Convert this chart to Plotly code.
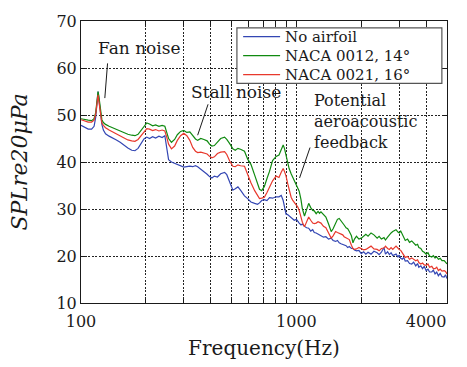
import numpy as np
import plotly.graph_objects as go

# Frequency grid (Hz)
freq_hz = [
    100, 104, 108, 112, 115, 117, 119, 120, 121, 123,
    125, 127, 130, 135, 140, 146, 152, 158, 165, 172,
    178, 184, 190, 196, 202, 208, 215, 222, 230, 238,
    245, 250, 255, 263, 272, 280, 290, 300, 310, 320,
    330, 340, 348, 360, 372, 385, 395, 405, 416, 430,
    445, 464, 475, 490, 507, 520, 535, 550, 574, 594,
    615, 640, 660, 674, 690, 710, 730, 750, 775, 805,
    830, 850, 868, 880, 895, 910, 925, 945, 960, 977,
    1000, 1015, 1030, 1050, 1065, 1090, 1115, 1140, 1165, 1190,
    1210, 1235, 1260, 1280, 1300, 1335, 1370, 1410, 1450, 1480,
    1520, 1550, 1580, 1610, 1640, 1665, 1700, 1730, 1760, 1800,
    1830, 1860, 1900, 1950, 2000, 2050, 2100, 2150, 2220, 2290,
    2370, 2420, 2480, 2550, 2590, 2650, 2700, 2750, 2800, 2900,
    2960, 3000, 3050, 3100, 3150, 3200, 3280, 3350, 3430, 3500,
    3580, 3650, 3700, 3780, 3850, 3920, 4000, 4080, 4150, 4250,
    4320, 4400, 4480, 4560, 4650, 4740, 4850, 4920, 5000,
]

# Sound pressure level (dB re 20 uPa)
spl_no_airfoil = [
    47.8, 47.3, 47.0, 47.0, 47.6, 49.5, 53.0, 55.0, 53.5, 50.0,
    48.0, 46.8, 46.0, 45.5, 45.2, 44.7, 44.2, 43.6, 43.0, 42.5,
    42.4, 42.9, 44.0, 44.9, 45.3, 45.0, 45.4, 45.1, 45.5, 45.2,
    45.6, 42.5, 40.5, 40.0, 39.7, 39.4, 39.1, 38.9, 39.0, 39.1,
    39.0, 39.2, 39.0, 38.5, 38.0, 37.4, 36.9, 36.6, 37.0, 36.8,
    37.5, 37.8, 37.3, 35.5, 34.0, 34.3, 34.7, 34.0, 32.8, 32.2,
    31.5, 31.2, 31.0, 31.3, 31.8, 32.0, 31.8, 32.4, 32.3, 32.6,
    32.6, 32.9, 31.8, 30.5, 28.9, 28.8, 28.5, 28.1, 28.0, 27.6,
    27.8, 27.3, 27.0, 26.6, 26.8, 26.3, 26.0, 25.9, 25.3, 25.6,
    25.0, 24.9, 24.6, 24.5, 24.3, 24.0, 24.1, 23.6, 23.8, 23.3,
    23.1, 23.3, 22.8, 22.6, 22.5, 22.3, 22.2, 21.8, 22.0, 21.6,
    21.6, 21.3, 21.1, 21.2, 20.5, 20.9, 20.4, 20.8, 20.4, 21.0,
    20.7, 20.3, 20.8, 21.8, 20.4, 20.9, 20.3, 20.7, 20.1, 20.4,
    19.8, 20.2, 19.5, 19.3, 19.7, 18.9, 19.0, 18.4, 18.3, 18.7,
    17.9, 18.4, 17.6, 17.9, 17.3, 17.8, 16.9, 17.2, 16.6, 16.6,
    17.0, 16.2, 16.6, 15.8, 16.3, 15.6, 15.5, 16.0, 15.2,
]

spl_naca0012_14 = [
    49.2, 49.0, 48.9, 48.8, 49.2, 50.5, 53.2, 55.0, 54.0, 51.0,
    49.0, 48.4, 48.0, 47.6, 47.3, 46.9, 46.5, 46.2, 45.9, 45.7,
    45.6, 45.9, 46.7, 47.6, 48.3, 48.1, 47.7, 47.9, 47.6, 47.8,
    47.6, 46.3, 45.0, 44.2, 44.8, 45.8, 46.5, 46.7, 46.3, 46.4,
    45.6, 44.9, 44.6, 45.0, 44.8, 44.5, 43.8, 43.4, 43.5, 44.2,
    45.0, 45.3, 44.8, 43.9, 42.8, 42.5, 42.9, 42.7, 42.3, 40.6,
    39.5, 37.2, 35.5, 34.2, 33.9, 34.8, 36.5, 38.0, 40.3, 41.2,
    41.5, 42.5, 43.6, 42.9, 41.5, 39.8, 38.6, 37.5, 36.8, 36.2,
    35.2, 34.5, 33.8, 32.0, 30.1, 28.5, 29.8, 31.2, 30.3, 29.7,
    29.6, 29.0, 29.5, 29.1, 29.4, 28.9, 28.3, 26.8, 25.2, 25.8,
    27.0, 27.8, 28.0, 27.4, 27.0, 26.6, 26.0, 25.8, 25.2, 24.3,
    22.8, 23.6, 24.2, 23.6, 23.8, 24.3, 24.6, 24.2, 24.9, 24.5,
    23.8, 24.2, 23.6, 23.9, 23.4, 24.0, 24.6, 24.9, 25.2, 25.6,
    25.1, 24.9, 25.3, 24.6, 24.1, 23.3, 23.6, 22.9, 23.2, 22.8,
    22.3, 22.5, 21.8, 21.6, 21.0, 20.8, 20.4, 20.7, 20.0, 19.8,
    20.1, 19.6, 19.8, 19.3, 19.5, 19.0, 19.0, 18.7, 18.3,
]

spl_naca0021_16 = [
    49.0, 48.7, 48.5, 48.5, 48.9, 50.2, 52.8, 54.3, 53.0, 50.5,
    48.3, 47.8, 47.3, 46.8, 46.4, 45.9, 45.5, 45.1, 44.7, 44.5,
    44.4, 44.8, 45.6, 46.5, 47.1, 47.0, 46.7, 46.9, 46.6, 46.8,
    46.6, 45.3, 43.8, 42.8, 43.4, 44.6, 45.6, 46.1, 45.6, 44.6,
    43.1, 42.3, 42.0, 42.1, 41.9, 41.7, 41.2, 40.9, 41.1, 41.8,
    42.1, 42.2, 41.6, 40.2, 39.1, 39.0, 39.4, 39.2, 39.1, 37.3,
    35.6, 33.9, 33.0, 32.2, 32.3, 32.5, 33.5, 34.6, 36.0, 37.0,
    36.7, 37.8, 38.6, 38.0, 37.0, 35.5, 34.0, 32.5, 31.9, 31.4,
    30.8, 30.4, 29.7, 28.3, 27.2, 26.2, 27.2, 28.3, 27.6, 27.0,
    26.9, 27.0, 27.3, 27.1, 27.0, 26.3, 26.0, 24.9, 23.8, 24.3,
    25.2, 25.0, 24.8, 24.6, 24.5, 24.1, 23.9, 23.6, 23.5, 22.3,
    21.6, 21.4, 21.5, 21.8, 21.5, 21.3, 21.4, 21.7, 22.1, 21.5,
    21.4, 21.1, 21.6, 21.7, 22.1, 21.6, 21.4, 21.8, 21.4, 22.1,
    21.6, 21.4, 21.2, 20.6, 20.1, 19.7, 19.9, 19.3, 19.6, 19.3,
    19.0, 19.2, 18.6, 18.3, 18.5, 18.1, 18.0, 18.3, 17.6, 17.8,
    17.3, 17.3, 17.6, 16.9, 17.2, 16.8, 16.9, 16.7, 16.2,
]

series_names = ["No airfoil", "NACA 0012, 14°", "NACA 0021, 16°"]
series_colors = ["#3346b3", "#108a10", "#e8382c"]

x_tick_vals = [100, 200, 300, 400, 500, 600, 700, 800, 900, 1000, 2000, 3000, 4000]
x_tick_text = ["100", "", "", "", "", "", "", "", "", "1000", "", "", "4000"]
y_tick_vals = [10, 20, 30, 40, 50, 60, 70]

FONT = "DejaVu Serif"
INK = "#1a1a1a"

fig = go.Figure()
for name, values, color in zip(series_names,
                               [spl_no_airfoil, spl_naca0012_14, spl_naca0021_16],
                               series_colors):
    fig.add_trace(go.Scatter(x=freq_hz, y=values, mode="lines", name=name,
                             showlegend=False, line=dict(color=color, width=1.2)))

# Callout labels: text, anchor (Hz, dB), alignment, font size
callout_texts = [
    ("Fan noise", 187, 64.2, "center", 17),
    ("Stall noise", 525, 54.85, "center", 17),
    ("Potential<br>aeroacoustic<br>feedback", 1186, 48.72, "left", 16),
]
# Pointer lines: start (Hz, dB) -> tip (Hz, dB)
callout_pointers = [
    (133, 61.3, 129, 53.6),
    (391, 52.6, 348, 45.7),
    (1163, 43.4, 1034, 36.6),
]

annotations = []
shapes = []
for text, fx, yy, align, size in callout_texts:
    annotations.append(dict(
        x=np.log10(fx), y=yy, xref="x", yref="y", text=text, showarrow=False,
        xanchor=align, yanchor="middle", align=align,
        font=dict(family=FONT, size=size, color=INK)))
for x0, y0, x1, y1 in callout_pointers:
    annotations.append(dict(
        x=np.log10(x1), y=y1, ax=np.log10(x0), ay=y0, xref="x", yref="y",
        axref="x", ayref="y", text="", showarrow=True, arrowhead=0,
        arrowwidth=1, arrowcolor=INK, standoff=0, startstandoff=0))

# Compact legend box in the upper-right corner (paper coordinates)
legend_box = dict(x0=0.426, x1=0.986, y0=0.7785, y1=0.9758)
legend_rows_y = [0.9446, 0.8772, 0.8097]
legend_sample_x = (0.443, 0.544)
legend_text_x = 0.552
shapes.append(dict(type="rect", xref="paper", yref="paper", layer="above",
                   fillcolor="white", line=dict(color="#555555", width=1.2),
                   **legend_box))
for name, color, ry in zip(series_names, series_colors, legend_rows_y):
    shapes.append(dict(type="line", xref="paper", yref="paper", layer="above",
                       x0=legend_sample_x[0], x1=legend_sample_x[1], y0=ry, y1=ry,
                       line=dict(color=color, width=1.2)))
    annotations.append(dict(x=legend_text_x, y=ry, xref="paper", yref="paper",
                            text=name, showarrow=False, xanchor="left", yanchor="middle",
                            font=dict(family=FONT, size=15, color=INK)))

grid = dict(showgrid=True, gridcolor="#222222", gridwidth=1, griddash="2px,1.5px")
axis_common = dict(showline=True, linecolor=INK, linewidth=1, mirror="ticks",
                   ticks="inside", ticklen=4, tickcolor=INK, zeroline=False,
                   tickfont=dict(family=FONT, size=16, color=INK), **grid)

fig.update_layout(
    width=467, height=367,
    margin=dict(l=81, r=20, t=16, b=62),
    paper_bgcolor="white", plot_bgcolor="white",
    font=dict(family=FONT, color=INK),
    xaxis=dict(type="log", range=[2, np.log10(5000)], tickmode="array",
               tickvals=x_tick_vals, ticktext=x_tick_text, ticklabelstandoff=4,
               title=dict(text="Frequency(Hz)", font=dict(family=FONT, size=20, color=INK),
                          standoff=10),
               **axis_common),
    yaxis=dict(range=[10, 70], tickmode="array", tickvals=y_tick_vals,
               title=dict(text="<i>SPLre20μPa</i>", font=dict(family=FONT, size=22, color=INK),
                          standoff=22),
               **axis_common),
    annotations=annotations,
    shapes=shapes,
    showlegend=False,
)

fig.write_html("out.html")
